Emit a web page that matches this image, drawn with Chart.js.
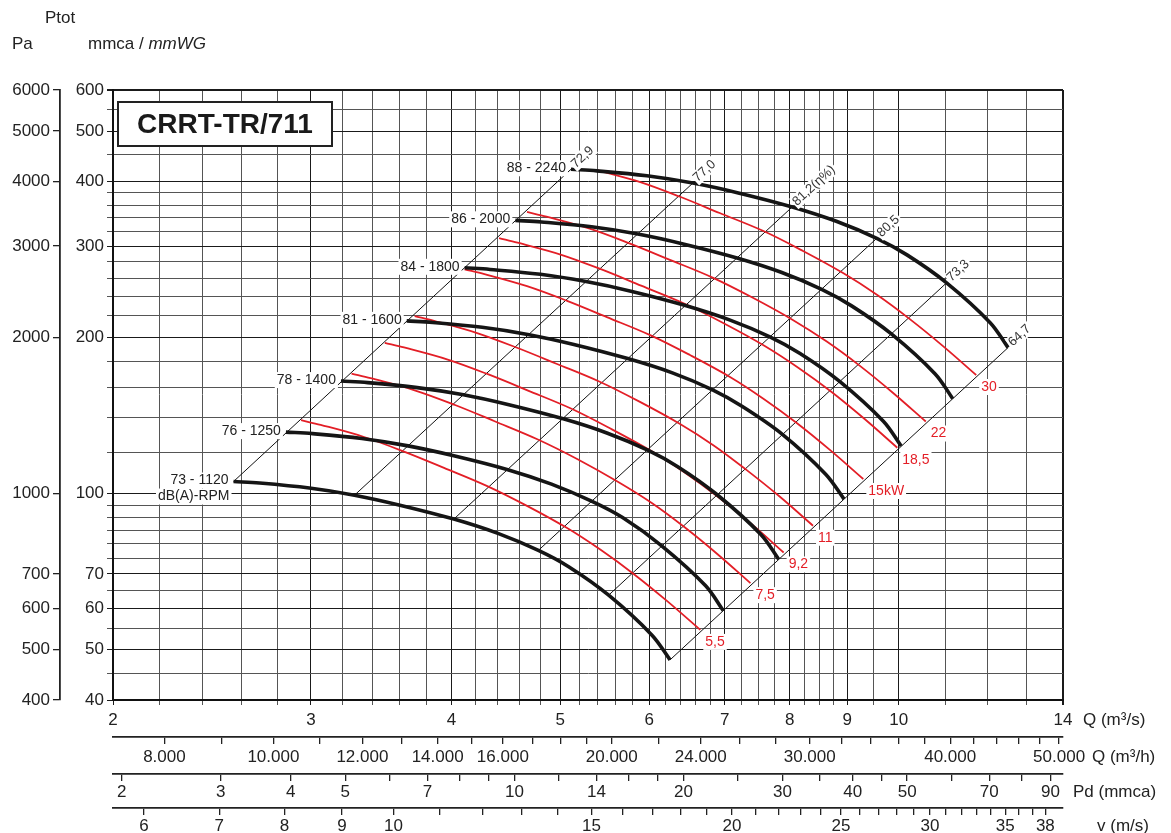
<!DOCTYPE html>
<html>
<head>
<meta charset="utf-8">
<script src="https://cdn.jsdelivr.net/npm/chart.js@4.4.1/dist/chart.umd.min.js"></script>
<style>
  html, body { margin: 0; padding: 0; background: #fff; }
  #wrap { width: 1171px; height: 833px; }
</style>
</head>
<body>
<div id="wrap"><canvas id="fanChart" width="1171" height="833"></canvas></div>
<script>
// Curve values: Q in m3/s, Ptot in mmca
const q2240 = [5.11, 5.39, 5.97, 6.56, 7.20, 8.04, 8.80, 9.56, 10.17, 11.03, 12.06, 12.51];
const p2240 = [422, 419, 410, 397, 380, 357, 335, 310.6, 288.6, 254.9, 213.6, 191.2];
const q2000 = [4.56, 4.81, 5.33, 5.86, 6.43, 7.18, 7.86, 8.54, 9.08, 9.85, 10.77, 11.17];
const p2000 = [336.4, 334.0, 326.9, 316.5, 302.9, 284.6, 267.1, 247.6, 230.1, 203.2, 170.3, 152.4];
const q1800 = [4.11, 4.33, 4.80, 5.27, 5.79, 6.46, 7.07, 7.68, 8.17, 8.86, 9.69, 10.05];
const p1800 = [272.5, 270.5, 264.7, 256.3, 245.4, 230.5, 216.3, 200.6, 186.3, 164.6, 137.9, 123.5];
const q1600 = [3.65, 3.85, 4.26, 4.69, 5.14, 5.74, 6.29, 6.83, 7.26, 7.88, 8.61, 8.94];
const p1600 = [215.3, 213.8, 209.2, 202.5, 193.9, 182.1, 170.9, 158.5, 147.2, 130.1, 109.0, 97.6];
const q1400 = [3.19, 3.37, 3.73, 4.10, 4.50, 5.03, 5.50, 5.98, 6.36, 6.89, 7.54, 7.82];
const p1400 = [164.8, 163.7, 160.1, 155.1, 148.4, 139.4, 130.9, 121.3, 112.7, 99.6, 83.4, 74.7];
const q1250 = [2.85, 3.01, 3.33, 3.66, 4.02, 4.49, 4.91, 5.33, 5.68, 6.15, 6.73, 6.98];
const p1250 = [131.4, 130.5, 127.7, 123.6, 118.3, 111.2, 104.3, 96.7, 89.9, 79.4, 66.5, 59.5];
const q1120 = [2.56, 2.70, 2.99, 3.28, 3.60, 4.02, 4.40, 4.78, 5.09, 5.52, 6.03, 6.26];
const p1120 = [105.5, 104.8, 102.5, 99.3, 95.0, 89.3, 83.8, 77.7, 72.2, 63.7, 53.4, 47.8];
const rpmLabels = ['73 - 1120', '76 - 1250', '78 - 1400', '81 - 1600', '84 - 1800', '86 - 2000', '88 - 2240'];

// red motor power lines (kW)
const q30 = [5.39, 5.89, 6.39, 6.93, 7.58, 8.22, 8.93, 9.57, 10.23, 10.95, 11.72];
const p30 = [420.6, 398.7, 373.5, 347.5, 320.8, 293.6, 265.9, 241.5, 217.0, 192.5, 169.3];
const q22 = [4.67, 4.86, 5.31, 5.76, 6.25, 6.83, 7.41, 8.05, 8.63, 9.23, 9.88, 10.57];
const p22 = [349.1, 342.0, 324.2, 303.7, 282.6, 260.9, 238.8, 216.2, 196.4, 176.5, 156.5, 137.7];
const q18_5 = [4.41, 4.58, 5.01, 5.44, 5.90, 6.45, 7.00, 7.60, 8.14, 8.71, 9.32, 9.97];
const p18_5 = [310.9, 304.6, 288.7, 270.5, 251.7, 232.3, 212.6, 192.6, 174.9, 157.2, 139.4, 122.6];
const q15 = [4.11, 4.28, 4.67, 5.07, 5.50, 6.01, 6.52, 7.09, 7.59, 8.12, 8.69, 9.30];
const p15 = [270.5, 265.0, 251.2, 235.3, 218.9, 202.1, 185.0, 167.5, 152.1, 136.7, 121.3, 106.7];
const q11 = [3.71, 3.86, 4.21, 4.57, 4.96, 5.42, 5.88, 6.39, 6.85, 7.32, 7.84, 8.39];
const p11 = [219.9, 215.4, 204.2, 191.3, 178.0, 164.3, 150.4, 136.2, 123.7, 111.1, 98.6, 86.7];
const q9_2 = [3.49, 3.63, 3.97, 4.31, 4.68, 5.11, 5.54, 6.02, 6.45, 6.90, 7.39, 7.90];
const p9_2 = [195.2, 191.3, 181.3, 169.9, 158.0, 145.9, 133.5, 120.9, 109.8, 98.7, 87.5, 77.0];
const q7_5 = [3.26, 3.39, 3.71, 4.03, 4.37, 4.77, 5.18, 5.62, 6.03, 6.45, 6.90, 7.38];
const p7_5 = [170.4, 166.9, 158.2, 148.2, 137.9, 127.3, 116.5, 105.5, 95.9, 86.1, 76.4, 67.2];
const q5_5 = [2.94, 3.06, 3.34, 3.63, 3.94, 4.30, 4.67, 5.07, 5.43, 5.81, 6.22, 6.66];
const p5_5 = [138.5, 135.7, 128.7, 120.5, 112.1, 103.5, 94.7, 85.8, 77.9, 70.0, 62.1, 54.6];
const powerLabels = ['5,5', '7,5', '9,2', '11', '15kW', '18,5', '22', '30'];

// efficiency lines (top point on 2240 rpm, bottom point on 1120 rpm)
const effLabels = ['72,9', '77,0', '81,2(η%)', '80,5', '73,3', '64,7'];
const effTopQ = [5.11, 6.56, 8.04, 9.56, 11.03, 12.51];
const effTopP = [422, 397, 357, 310.6, 254.9, 191.2];
const effLowQ = [2.56, 3.28, 4.02, 4.78, 5.52, 6.26];
const effLowP = [105.5, 99.3, 89.3, 77.7, 63.7, 47.8];

// axis ticks
const qTicks = [2, 2.2, 2.4, 2.6, 2.8, 3, 3.2, 3.4, 3.6, 3.8, 4, 4.2, 4.4, 4.6, 4.8, 5, 5.2, 5.4, 5.6, 5.8,
  6, 6.2, 6.4, 6.6, 6.8, 7, 7.25, 7.5, 7.75, 8, 8.25, 8.5, 8.75, 9, 9.5, 10, 11, 12, 13, 14];
const qLabels = [2, 3, 4, 5, 6, 7, 8, 9, 10, 14];
const yTicks = [40, 45, 50, 55, 60, 65, 70, 75, 80, 85, 90, 95, 100, 120, 140, 160, 180, 200, 220, 240,
  260, 280, 300, 320, 340, 360, 380, 400, 450, 500, 550, 600];
const yLabels = [40, 50, 60, 70, 100, 200, 300, 400, 500, 600];
const paTicks = [400, 500, 600, 700, 1000, 2000, 3000, 4000, 5000, 6000];
const hTicks = [8000, 9000, 10000, 11000, 12000, 13000, 14000, 15000, 16000, 17000, 18000, 19000, 20000,
  22000, 24000, 26000, 28000, 30000, 32000, 34000, 36000, 38000, 40000, 42000, 44000, 46000, 48000, 50000];
const hLabels = [8000, 10000, 12000, 14000, 16000, 20000, 24000, 30000, 40000, 50000];
const pdTicks = [2, 3, 4, 5, 6, 7, 8, 9, 10, 12, 14, 16, 18, 20, 25, 30, 35, 40, 45, 50, 60, 70, 80, 90];
const pdLabels = [2, 3, 4, 5, 7, 10, 14, 20, 30, 40, 50, 70, 90];
const vTicks = [6, 7, 8, 9, 10, 11, 12, 13, 14, 15, 16, 17, 18, 19, 20, 21, 22, 23, 24, 25, 26, 27, 28,
  29, 30, 31, 32, 33, 34, 35, 36, 37, 38];
const vLabels = [6, 7, 8, 9, 10, 15, 20, 25, 30, 35, 38];

const RED = '#e31e26';
const FONT = '"Liberation Sans", Arial, sans-serif';
Chart.defaults.font.family = FONT;
Chart.defaults.color = '#222';

function pts(qs, ps) {
  return qs.map((q, i) => ({ x: q, y: ps[i] }));
}

const fanQ = [q1120, q1250, q1400, q1600, q1800, q2000, q2240];
const fanP = [p1120, p1250, p1400, p1600, p1800, p2000, p2240];
const redQ = [q5_5, q7_5, q9_2, q11, q15, q18_5, q22, q30];
const redP = [p5_5, p7_5, p9_2, p11, p15, p18_5, p22, p30];

const datasets = [];
fanQ.forEach((qs, i) => {
  datasets.push({ data: pts(qs, fanP[i]), borderColor: '#151515', borderWidth: 3.6,
    tension: 0.35, pointRadius: 0, order: 0 });
});
redQ.forEach((qs, i) => {
  datasets.push({ data: pts(qs, redP[i]), borderColor: RED, borderWidth: 1.8,
    tension: 0.35, pointRadius: 0, order: 1 });
});
effTopQ.forEach((q, i) => {
  datasets.push({ data: [{ x: effLowQ[i], y: effLowP[i] }, { x: q, y: effTopP[i] }],
    borderColor: '#111', borderWidth: 1, tension: 0, pointRadius: 0, order: 2 });
});

function setTicks(list) {
  return (scale) => { scale.ticks = list.map(v => ({ value: v })); };
}
function gridCol(labels) {
  return (c) => (c.tick && labels.includes(c.tick.value)) ? '#1a1a1a' : '#555';
}
function dotted(v) {
  return (v / 1000).toFixed(3);
}

function boxText(ctx, text, x, y, align, color, font) {
  ctx.font = font;
  const w = ctx.measureText(text).width;
  const h = parseInt(font.match(/(\d+)px/)[1], 10);
  let left = x;
  if (align === 'right') left = x - w;
  else if (align === 'center') left = x - w / 2;
  ctx.fillStyle = '#fff';
  ctx.fillRect(left - 2, y - h / 2 - 1, w + 4, h + 2);
  ctx.fillStyle = color;
  ctx.textAlign = align;
  ctx.textBaseline = 'middle';
  ctx.fillText(text, x, y);
}

const annotations = {
  id: 'annotations',
  afterDatasetsDraw(chart) {
    const { ctx, scales } = chart;
    const x = scales.x, y = scales.y;
    ctx.save();
    // rpm labels at the start of each fan curve
    fanQ.forEach((qs, i) => {
      const px = x.getPixelForValue(qs[0]);
      const py = y.getPixelForValue(fanP[i][0]);
      boxText(ctx, rpmLabels[i], px - 5, py - 1, 'right', '#222', '14px ' + FONT);
      if (i === 0) boxText(ctx, 'dB(A)-RPM', px - 4, py + 15, 'right', '#222', '14px ' + FONT);
    });
    // power labels at the end of each red line
    redQ.forEach((qs, i) => {
      const n = qs.length - 1;
      const px = x.getPixelForValue(qs[n]);
      const py = y.getPixelForValue(redP[i][n]);
      boxText(ctx, powerLabels[i], px + 5, py + 12, 'left', RED, '14px ' + FONT);
    });
    // efficiency labels along the diagonals
    effTopQ.forEach((q, i) => {
      const px = x.getPixelForValue(q);
      const py = y.getPixelForValue(effTopP[i]);
      ctx.save();
      ctx.translate(px, py);
      ctx.rotate(-0.745);
      ctx.font = '13px ' + FONT;
      const w = ctx.measureText(effLabels[i]).width;
      ctx.fillStyle = '#fff';
      ctx.fillRect(3, -8, w + 3, 14);
      ctx.fillStyle = '#333';
      ctx.textAlign = 'left';
      ctx.textBaseline = 'middle';
      ctx.fillText(effLabels[i], 4, -1);
      ctx.restore();
    });
    ctx.restore();
  },
  afterDraw(chart) {
    const { ctx, chartArea, scales } = chart;
    ctx.save();
    // model box
    const bx = chartArea.left + 5, by = chartArea.top + 12;
    ctx.fillStyle = '#fff';
    ctx.fillRect(bx, by, 214, 44);
    ctx.strokeStyle = '#222';
    ctx.lineWidth = 2;
    ctx.strokeRect(bx, by, 214, 44);
    ctx.fillStyle = '#1a1a1a';
    ctx.font = 'bold 28px ' + FONT;
    ctx.textAlign = 'center';
    ctx.textBaseline = 'middle';
    ctx.fillText('CRRT-TR/711', bx + 107, by + 23);
    // top-left unit captions
    ctx.font = '17px ' + FONT;
    ctx.textAlign = 'left';
    ctx.fillStyle = '#222';
    ctx.fillText('Ptot', 45, 18);
    ctx.fillText('Pa', 12, 44);
    ctx.fillText('mmca / ', 88, 44);
    const mw = ctx.measureText('mmca / ').width;
    ctx.font = 'italic 17px ' + FONT;
    ctx.fillText('mmWG', 88 + mw, 44);
    // bottom axis captions
    ctx.font = '17px ' + FONT;
    const r = chartArea.right;
    ctx.fillText('Q (m³/s)', r + 20, scales.x.top + 20);
    ctx.fillText('Q (m³/h)', r + 29, scales.xh.top + 20);
    ctx.fillText('Pd (mmca)', r + 10, scales.xpd.top + 18);
    ctx.fillText('v (m/s)', r + 34, scales.xv.top + 18);
    ctx.restore();
  }
};

const tickFont = { size: 17 };

new Chart(document.getElementById('fanChart'), {
  type: 'line',
  data: { datasets: datasets },
  options: {
    responsive: false,
    animation: false,
    events: [],
    layout: { padding: { top: 90, right: 108, left: 0, bottom: 0 } },
    plugins: { legend: { display: false }, tooltip: { enabled: false } },
    scales: {
      x: {
        type: 'logarithmic', position: 'bottom', weight: 0, min: 2, max: 14,
        afterBuildTicks: setTicks(qTicks),
        afterFit: (s) => { s.height = 37; },
        ticks: { autoSkip: false, maxRotation: 0, padding: 5, font: tickFont, color: '#222',
          callback: (v) => qLabels.includes(v) ? String(v) : '' },
        grid: { color: gridCol(qLabels), lineWidth: (c) => (c.tick && c.tick.value === 14) ? 2 : 1, tickLength: 5 },
        border: { color: '#111', width: 2 }
      },
      xh: {
        type: 'logarithmic', position: 'bottom', weight: 1, min: 7200, max: 50400,
        afterBuildTicks: setTicks(hTicks),
        afterFit: (s) => { s.height = 37; },
        ticks: { autoSkip: false, maxRotation: 0, padding: 3, font: tickFont, color: '#222',
          callback: (v) => hLabels.includes(v) ? dotted(v) : '' },
        grid: { drawOnChartArea: false, color: '#222', tickLength: 7, lineWidth: 1.3 },
        border: { color: '#222', width: 1.8 }
      },
      xpd: {
        type: 'logarithmic', position: 'bottom', weight: 2, min: 1.93, max: 94.7,
        afterBuildTicks: setTicks(pdTicks),
        afterFit: (s) => { s.height = 34; },
        ticks: { autoSkip: false, maxRotation: 0, padding: 1, font: tickFont, color: '#222',
          callback: (v) => pdLabels.includes(v) ? String(v) : '' },
        grid: { drawOnChartArea: false, color: '#222', tickLength: 7, lineWidth: 1.3 },
        border: { color: '#222', width: 1.8 }
      },
      xv: {
        type: 'logarithmic', position: 'bottom', weight: 3, min: 5.63, max: 39.4,
        afterBuildTicks: setTicks(vTicks),
        afterFit: (s) => { s.height = 25; },
        ticks: { autoSkip: false, maxRotation: 0, padding: 1, font: tickFont, color: '#222',
          callback: (v) => vLabels.includes(v) ? String(v) : '' },
        grid: { drawOnChartArea: false, color: '#222', tickLength: 7, lineWidth: 1.3 },
        border: { color: '#222', width: 1.8 }
      },
      y: {
        type: 'logarithmic', position: 'left', weight: 0, min: 40, max: 600,
        afterBuildTicks: setTicks(yTicks),
        afterFit: (s) => { s.width = 53; },
        ticks: { autoSkip: false, padding: 3, font: tickFont, color: '#222',
          callback: (v) => yLabels.includes(v) ? String(v) : '' },
        grid: { color: gridCol(yLabels), lineWidth: (c) => (c.tick && c.tick.value === 600) ? 2 : 1, tickLength: 6 },
        border: { color: '#111', width: 2 }
      },
      yPa: {
        type: 'logarithmic', position: 'left', weight: 1, min: 400, max: 6000,
        afterBuildTicks: setTicks(paTicks),
        afterFit: (s) => { s.width = 60; },
        ticks: { autoSkip: false, padding: 3, font: tickFont, color: '#222',
          callback: (v) => String(v) },
        grid: { drawOnChartArea: false, color: '#222', tickLength: 7, lineWidth: 1.3 },
        border: { color: '#222', width: 1.8 }
      }
    }
  },
  plugins: [annotations]
});
</script>
</body>
</html>
